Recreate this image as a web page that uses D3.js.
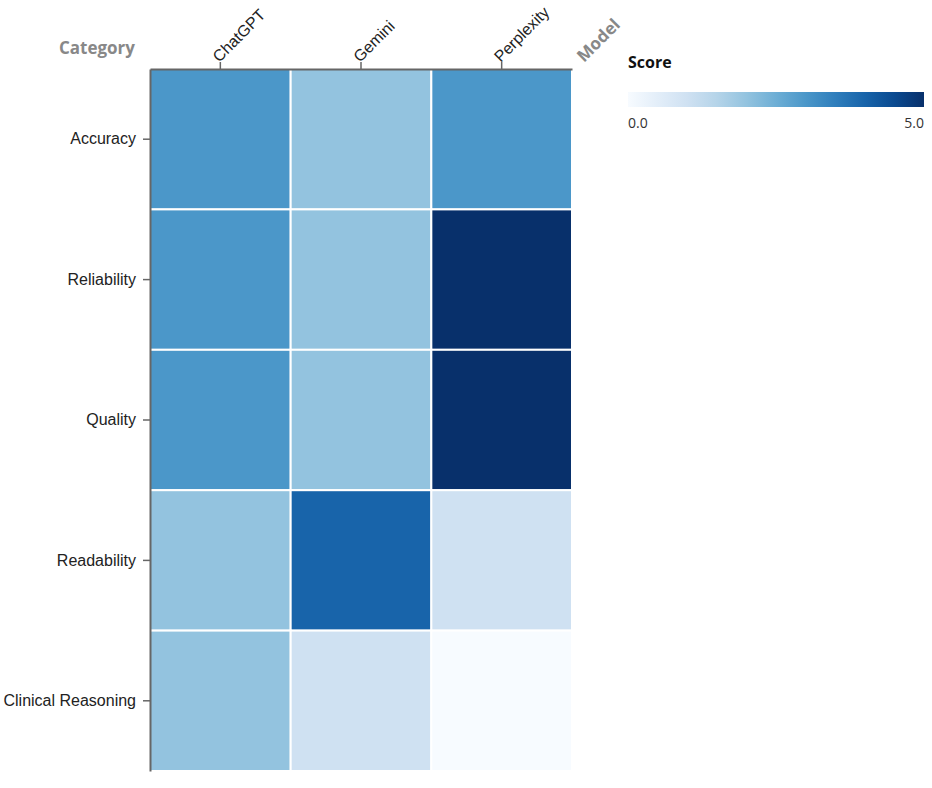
<!DOCTYPE html>
<html>
<head>
<meta charset="utf-8">
<script src="https://cdn.jsdelivr.net/npm/d3@7"></script>
<style>
  body { margin: 0; background: #fff; }
  svg { font-family: "Open Sans", "Noto Sans", sans-serif; }
  .axis path, .axis line { stroke: #666; }
  .axis text { fill: #222; font-size: 16px; }
</style>
</head>
<body>
<svg id="chart" width="932" height="788"></svg>
<script>
// Данные тепловой карты
const models = ['ChatGPT', 'Gemini', 'Perplexity'];
const categories = ['Accuracy', 'Reliability', 'Quality', 'Readability', 'Clinical Reasoning'];
// оценки по строкам (категория) и столбцам (модель)
const scores = [
  [3, 2, 3],
  [3, 2, 5],
  [3, 2, 5],
  [2, 4, 1],
  [2, 1, 0]
];
const scoreDomain = [0, 5];
const legendTicks = [0, 5];

const svg = d3.select('#chart');
const margin = { top: 69, left: 150 };
const width = 422;
const height = 702;

const g = svg.append('g')
  .attr('transform', `translate(${margin.left},${margin.top})`);

const x = d3.scaleBand().domain(models).range([0, width]);
const y = d3.scaleBand().domain(categories).range([0, height]);
const color = d3.scaleSequential(d3.interpolateBlues).domain(scoreDomain);

// ячейки
const cells = [];
categories.forEach((c, i) => {
  models.forEach((m, j) => cells.push({ category: c, model: m, value: scores[i][j] }));
});

g.selectAll('rect.cell')
  .data(cells)
  .enter()
  .append('rect')
  .attr('class', 'cell')
  .attr('x', d => x(d.model))
  .attr('y', d => y(d.category))
  .attr('width', x.bandwidth())
  .attr('height', y.bandwidth())
  .attr('fill', d => color(d.value))
  .attr('stroke', '#fff')
  .attr('stroke-width', 2);

// оси
const xAxis = g.append('g')
  .attr('class', 'axis')
  .call(d3.axisTop(x).tickSize(7).tickSizeOuter(0));
xAxis.select('.domain').attr('stroke-width', 2);
xAxis.selectAll('.tick line').attr('stroke-width', 1.5);
xAxis.selectAll('.tick text')
  .attr('text-anchor', 'start')
  .attr('transform', 'translate(-5,-10) rotate(-45)')
  .attr('dy', '0.35em')
  .attr('y', 0)
  .attr('x', 0);

const yAxis = g.append('g')
  .attr('class', 'axis')
  .call(d3.axisLeft(y).tickSize(7).tickSizeOuter(0).tickPadding(7));
yAxis.select('.domain').attr('stroke-width', 2);
yAxis.selectAll('.tick line').attr('stroke-width', 1.5);

// подписи осей
svg.append('text')
  .attr('x', 135)
  .attr('y', 54)
  .attr('text-anchor', 'end')
  .attr('font-size', '17px')
  .attr('font-weight', 'bold')
  .attr('fill', '#888')
  .text('Category');

svg.append('text')
  .attr('transform', 'translate(584,63) rotate(-45)')
  .attr('font-size', '17px')
  .attr('font-weight', 'bold')
  .attr('fill', '#888')
  .text('Model');

// легенда
const legendX = 628, legendW = 296;
const defs = svg.append('defs');
const grad = defs.append('linearGradient').attr('id', 'score-grad');
d3.range(0, 1.01, 0.1).forEach(t => {
  grad.append('stop')
    .attr('offset', `${t * 100}%`)
    .attr('stop-color', color(scoreDomain[0] + t * (scoreDomain[1] - scoreDomain[0])));
});

svg.append('text')
  .attr('x', legendX)
  .attr('y', 68)
  .attr('font-size', '16px')
  .attr('font-weight', 'bold')
  .attr('fill', '#111')
  .text('Score');

svg.append('rect')
  .attr('x', legendX)
  .attr('y', 92)
  .attr('width', legendW)
  .attr('height', 15)
  .attr('fill', 'url(#score-grad)');

const lx = d3.scaleLinear().domain(scoreDomain).range([legendX, legendX + legendW]);
svg.selectAll('text.legend-tick')
  .data(legendTicks)
  .enter()
  .append('text')
  .attr('class', 'legend-tick')
  .attr('x', d => lx(d))
  .attr('y', 128)
  .attr('text-anchor', (d, i) => i === 0 ? 'start' : 'end')
  .attr('font-size', '14px')
  .attr('fill', '#333')
  .text(d => d.toFixed(1));
</script>
</body>
</html>
